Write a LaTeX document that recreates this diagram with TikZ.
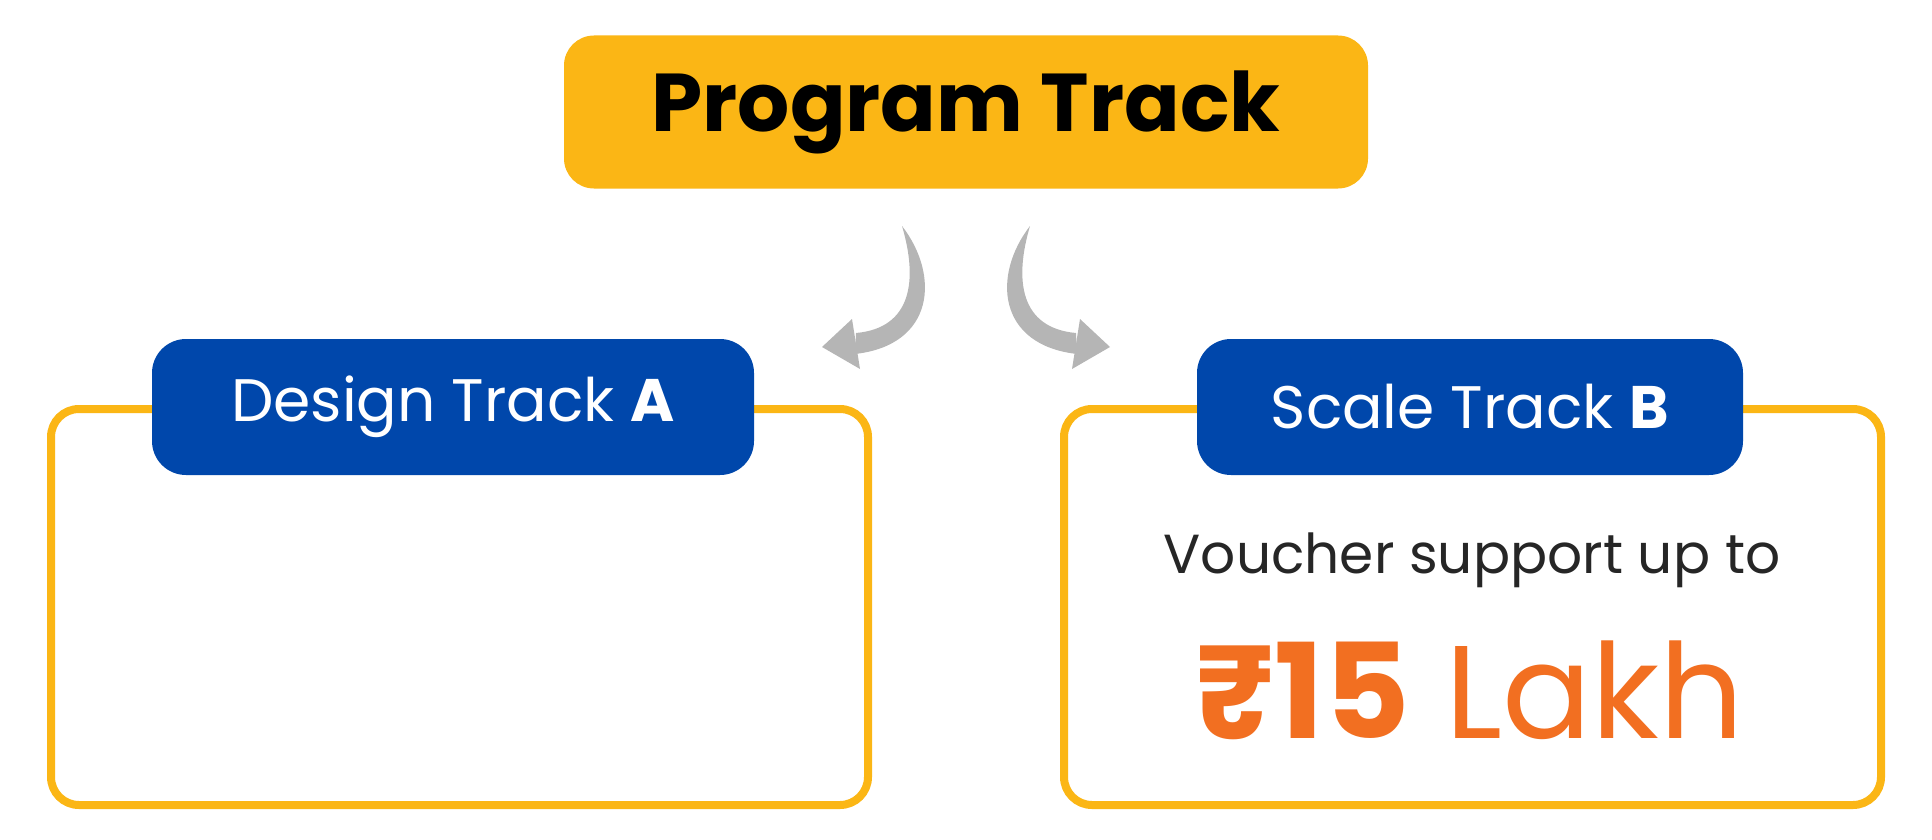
\documentclass[tikz,border=0pt]{standalone}
\usepackage{fontspec}
\setmainfont{Poppins}
\definecolor{ylw}{HTML}{FBB615}
\definecolor{blu}{HTML}{0047AB}
\definecolor{org}{HTML}{F26F21}
\definecolor{gry}{HTML}{B5B5B5}
\begin{document}
\begin{tikzpicture}[x=1pt,y=-1pt,
  card/.style={draw=ylw,line width=8pt,fill=white,rounded corners=28pt,minimum width=817pt,minimum height=396pt,inner sep=0pt},
  tab/.style={fill=blu,rounded corners=34pt,minimum height=136pt,inner sep=0pt,text=white,font=\fontsize{60}{66}\selectfont},
  arr/.style={fill=gry,draw=none}]
\useasboundingbox (0,0) rectangle (1932,840);
\node[fill=ylw,rounded corners=30pt,minimum width=804pt,minimum height=153pt,font=\fontsize{82}{90}\selectfont\bfseries] (top) at (966,112) {Program Track};
\node[card] (ca) at (459.5,607) {};
\node[card] (cb) at (1472.5,607) {};
\node[tab,minimum width=602pt] (ta) at (453,407) {Design Track \textbf{A}};
\node[tab,minimum width=546pt] (tb) at (1470,407) {Scale Track \textbf{B}};
\node[font=\fontsize{55}{60}\selectfont,text=black!85] (v) at (1472,560) {Voucher support up to};
\node[font=\fontsize{132}{140}\selectfont,text=org] (amt) at (1470,690) {\textbf{₹15} Lakh};
\foreach \s in {1,-1}{
\begin{scope}[shift={(966,0)},xscale=\s,shift={(-966,0)}]
\fill[arr] (902,226) .. controls (940,275) and (935,345) .. (855,354)
  -- (856,333) .. controls (912,328) and (918,280) .. (902,226) -- cycle;
\fill[arr] (852,319) -- (822,347) -- (860,369) -- cycle;
\end{scope}}
\end{tikzpicture}
\end{document}
